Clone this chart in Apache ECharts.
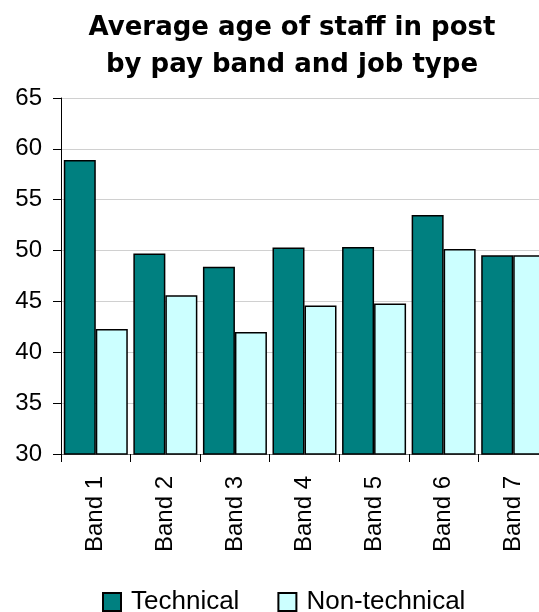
<!DOCTYPE html>
<html>
<head>
<meta charset="utf-8">
<script src="https://cdn.jsdelivr.net/npm/echarts@6/dist/echarts.min.js"></script>
<style>
html,body{margin:0;padding:0;background:#fff;overflow:hidden;width:539px;height:612px;}
#chart{width:548px;height:612px;}
</style>
</head>
<body>
<div id="chart"></div>
<script>
var categories = ['Band 1','Band 2','Band 3','Band 4','Band 5','Band 6','Band 7'];
var technical = [58.9, 49.7, 48.4, 50.3, 50.35, 53.5, 49.55];
var nonTechnical = [42.3, 45.6, 42.0, 44.6, 44.8, 50.15, 49.55];
var seriesNames = ['Technical','Non-technical'];
var titleText = 'Average age of staff in post\nby pay band and job type';

var chart = echarts.init(document.getElementById('chart'), null, {renderer:'canvas'});
chart.setOption({
  animation:false,
  backgroundColor:'#ffffff',
  title:{
    text:titleText,
    left:292,
    top:10,
    textAlign:'center',
    padding:0,
    textStyle:{fontFamily:'DejaVu Sans',fontWeight:'bold',fontSize:26,color:'#000',lineHeight:37}
  },
  legend:{
    data:seriesNames,
    top:589,
    left:102,
    padding:0,
    itemWidth:18,
    itemHeight:18,
    itemGap:38,
    icon:'rect',
    textStyle:{fontFamily:'Liberation Sans',fontSize:26,color:'#000',padding:[0,0,0,5]}
  },
  grid:{left:61,right:0,top:98,height:356,containLabel:false},
  xAxis:{
    type:'category',
    data:categories,
    axisLine:{lineStyle:{color:'#808080',width:1}},
    axisTick:{show:true,length:8,alignWithLabel:false,lineStyle:{color:'#000'}},
    axisLabel:{rotate:90,fontFamily:'Liberation Sans',fontSize:24,color:'#000',margin:22}
  },
  yAxis:{
    type:'value',
    min:30,max:65,interval:5,
    axisLine:{show:true,lineStyle:{color:'#000',width:1}},
    axisTick:{show:true,length:8,lineStyle:{color:'#000'}},
    axisLabel:{fontFamily:'Liberation Sans',fontSize:24,color:'#000',margin:19},
    splitLine:{show:true,lineStyle:{color:'#d0d0d0',width:1}}
  },
  series:[
    {name:seriesNames[0],type:'bar',data:technical,barWidth:32,barGap:'0%',
     itemStyle:{color:'#008080',borderColor:'#000',borderWidth:1.5}},
    {name:seriesNames[1],type:'bar',data:nonTechnical,barWidth:32,
     itemStyle:{color:'#ccffff',borderColor:'#000',borderWidth:1.5}}
  ]
});
</script>
</body>
</html>
